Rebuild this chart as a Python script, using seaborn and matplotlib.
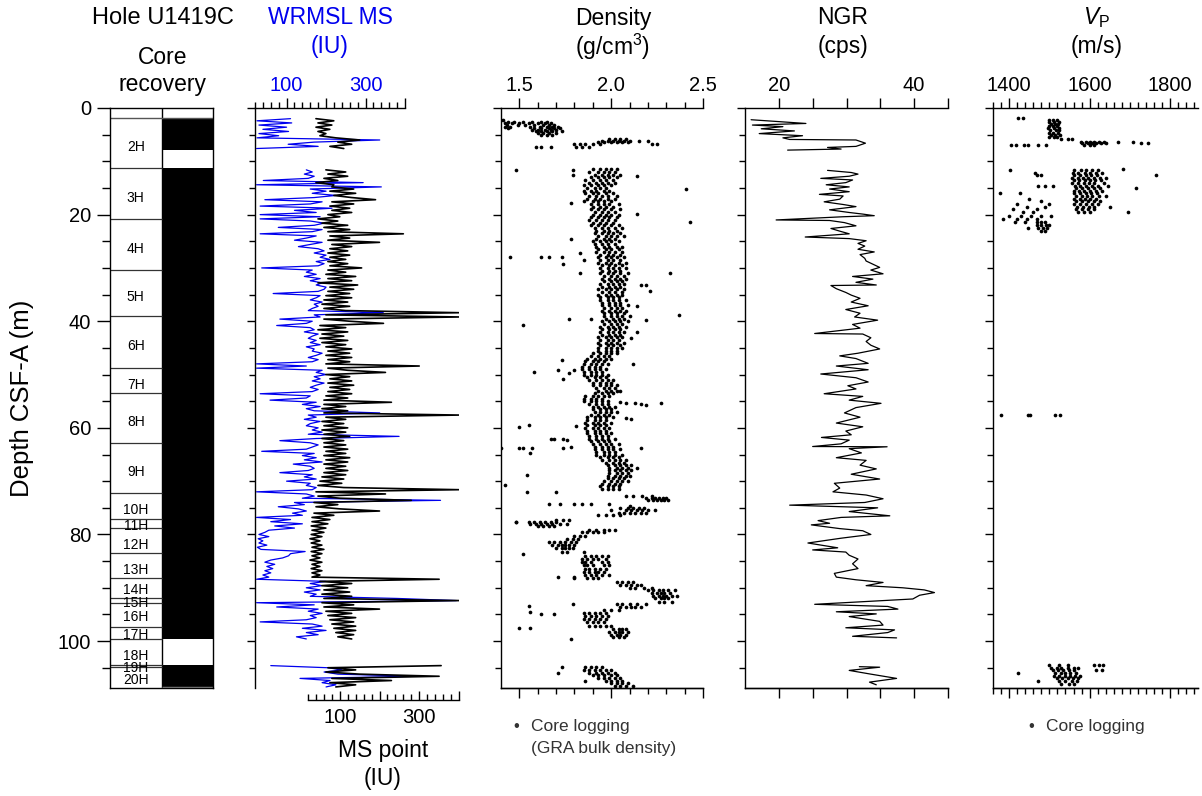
import numpy as np
import pandas as pd
import matplotlib
matplotlib.use("Agg")
import matplotlib.pyplot as plt
from matplotlib.ticker import FixedLocator, FixedFormatter
import seaborn as sns

# ---------------------------------------------------------------- data
core_names = ['2H', '3H', '4H', '5H', '6H', '7H', '8H', '9H', '10H', '11H',
              '12H', '13H', '14H', '15H', '16H', '17H', '18H', '19H', '20H']
core_tops = [1.9, 11.3, 20.9, 30.4, 39.1, 48.7, 53.5, 62.9, 72.2, 77.1,
             78.8, 83.5, 88.2, 91.9, 92.9, 97.4, 99.6, 104.4, 104.9]
core_bottoms = core_tops[1:] + [108.8]
recovered_tops = [1.9, 11.2, 104.4]
recovered_bottoms = [7.9, 99.6, 108.8]

# MS data sampled every 0.4 m from each section start
ms_step = 0.4
ms_starts = [2.0, 11.6, 104.6]
ms_point_2h = [40, 85, 45, 80, 40, 75, 45, 65, 50, 90, 150, 95, 130, 75, 110]
ms_point_main = [
    65, 115, 70, 120, 60, 95, 40, 85, 80, 135,
    75, 140, 85, 130, 190, 80, 135, 75, 125, 80,
    130, 70, 100, 45, 95, 55, 120, 60, 125, 70,
    260, 75, 125, 70, 200, 80, 130, 75, 120, 70,
    125, 75, 115, 70, 120, 75, 155, 70, 115, 65,
    140, 70, 130, 45, 145, 75, 135, 70, 125, 65,
    130, 60, 120, 55, 125, 60, 115, 400, 65, 400,
    60, 125, 210, 50, 115, 45, 120, 55, 110, 50,
    120, 55, 115, 65, 130, 70, 125, 65, 130, 70,
    125, 65, 300, 70, 120, 215, 65, 125, 75, 130,
    70, 135, 75, 125, 70, 130, 65, 120, 60, 230,
    60, 115, 55, 120, 60, 400, 65, 115, 55, 110,
    60, 120, 55, 115, 60, 125, 55, 110, 60, 115,
    60, 120, 65, 115, 60, 125, 65, 120, 60, 115,
    65, 120, 60, 115, 55, 110, 50, 105, 45, 110,
    400, 40, 215, 45, 100, 280, 35, 95, 40, 100,
    200, 35, 85, 30, 75, 30, 70, 28, 65, 30,
    60, 28, 55, 25, 50, 28, 55, 30, 60, 28,
    55, 30, 50, 25, 55, 30, 50, 28, 55, 30,
    50, 30, 350, 50, 130, 55, 120, 60, 125, 55,
    130, 60, 400, 55, 135, 60, 200, 65, 130, 70,
    140, 75, 135, 80, 140, 85, 140, 90, 135, 95,
    130]
ms_point_deep = [355, 70, 140, 65, 150, 350, 80, 230, 75, 140, 90]

wrmsl_2h = [110, 25, 113, 30, 100, 40, 105, 30, 80, 25, 336, 170, 104, 180, 24]
wrmsl_main = [
    150, 165, 145, 170, 155, 41, 294, 24, 340, 160,
    200, 165, 225, 170, 45, 190, 160, 33, 215, 120,
    175, 33, 185, 33, 160, 195, 170, 79, 190, 165,
    33, 175, 150, 120, 190, 160, 130, 180, 195, 170,
    200, 185, 210, 175, 195, 180, 37, 165, 150, 175,
    145, 185, 160, 190, 175, 200, 195, 180, 66, 185,
    175, 160, 190, 170, 180, 165, 155, 345, 170, 185,
    83, 165, 150, 75, 160, 170, 145, 180, 165, 155,
    175, 160, 185, 150, 170, 165, 190, 175, 155, 180,
    165, 24, 150, 24, 190, 175, 200, 170, 185, 165,
    195, 175, 160, 180, 165, 33, 160, 150, 58, 175,
    140, 185, 150, 170, 336, 155, 175, 145, 185, 160,
    150, 180, 165, 190, 155, 385, 175, 83, 160, 180,
    165, 150, 37, 170, 140, 175, 145, 190, 117, 160,
    170, 155, 83, 165, 145, 175, 100, 160, 150, 175,
    165, 24, 150, 170, 140, 490, 120, 145, 79, 130,
    150, 115, 140, 24, 110, 60, 140, 70, 120, 55,
    45, 30, 55, 28, 40, 30, 50, 26, 35, 147,
    110, 105, 90, 60, 45, 70, 50, 65, 45, 60,
    40, 55, 24, 200, 160, 190, 150, 185, 145, 175,
    160, 380, 530, 24, 170, 75, 180, 155, 190, 160,
    175, 150, 33, 165, 190, 140, 200, 150, 180, 125,
    150]
wrmsl_deep = [60, 205, 240, 195, 230, 430, 134, 210, 190, 225, 200]

ngr_depth = [2.2, 2.9, 3.2, 3.5, 3.9, 4.3, 4.8, 5.2, 5.6, 5.9, 6.0, 6.6, 7.2, 7.4, 7.7, 7.9,
             11.7, 12.1, 12.4, 12.8, 13.2, 13.5, 14.0, 14.4, 14.8, 15.2, 15.7, 16.2, 16.5,
             17.1, 17.6, 18.1, 18.5, 19.1, 19.6, 19.9, 20.2, 20.4, 21.0, 21.1, 21.5, 22.1,
             22.6, 23.1, 23.6, 24.2, 24.5, 24.9, 25.4, 25.9, 26.5, 27.0, 27.5, 28.2, 28.7,
             29.3, 29.9, 30.4, 31.1, 31.6, 32.1, 32.7, 33.2, 33.3, 33.9, 34.6, 35.1, 35.7,
             36.4, 37.1, 37.8, 38.5, 39.2, 39.8, 40.6, 41.3, 42.3, 42.4, 43.1, 43.8, 44.5,
             45.2, 46.0, 46.5, 47.0, 47.9, 48.4, 49.1, 49.9, 50.6, 51.4, 52.1, 52.7, 53.6,
             54.1, 54.8, 55.4, 56.2, 57.2, 58.0, 59.1, 59.8, 60.6, 61.3, 61.8, 62.3, 63.0,
             63.5, 63.55, 63.9, 64.7, 65.6, 66.1, 67.0, 67.7, 68.7, 69.6, 70.4, 71.3, 72.0,
             72.6, 73.3, 74.0, 74.5, 75.0, 75.7, 76.5, 76.8, 77.4, 77.9, 78.2, 78.9, 79.3,
             80.0, 80.7, 81.6, 82.5, 82.9, 83.3, 83.9, 84.6, 85.5, 86.4, 87.3, 88.0, 88.5,
             89.0, 89.6, 90.0, 90.4, 90.9, 91.4, 92.1, 93.1, 93.5, 94.0, 94.5, 94.9, 95.4,
             96.3, 97.0, 97.5, 97.9, 98.4, 99.1, 99.4,
             104.8, 104.9, 105.5, 106.2, 107.0, 107.7, 108.2]
ngr_cps = [15.9, 24.0, 16.1, 20.6, 17.4, 22.3, 17.1, 23.5, 20.6, 21.6, 31.4, 32.8, 31.4, 27.2, 29.2, 21.3,
           27.2, 30.7, 31.7, 30.4, 26.2, 30.9, 29.9, 27.0, 30.4, 27.5, 30.4, 26.0, 29.5,
           29.0, 26.7, 29.5, 31.4, 27.5, 30.4, 32.4, 34.1, 29.5, 19.6, 27.5, 29.7, 31.4,
           27.7, 29.0, 30.4, 23.9, 30.4, 32.9, 31.7, 32.7, 31.7, 34.1, 32.0, 32.7, 32.9,
           33.9, 34.9, 33.6, 35.4, 30.9, 33.9, 31.4, 34.4, 27.7, 28.5, 29.9, 30.7, 32.0,
           30.7, 33.2, 29.9, 32.0, 31.2, 34.6, 30.9, 32.0, 25.3, 32.4, 33.6, 32.9, 33.6,
           34.9, 31.7, 29.0, 31.4, 33.2, 28.5, 33.2, 26.2, 31.4, 33.2, 30.2, 31.4, 26.7,
           32.4, 30.4, 35.1, 31.4, 29.7, 32.0, 28.5, 32.4, 29.9, 30.7, 26.3, 30.4, 29.2,
           25.0, 36.0, 30.4, 32.2, 28.5, 32.9, 32.0, 34.4, 30.7, 34.9, 28.2, 29.0, 28.0,
           32.9, 35.4, 32.7, 21.6, 34.6, 30.4, 36.4, 29.2, 25.8, 27.5, 24.8, 29.0, 32.4,
           33.6, 29.2, 24.3, 28.7, 25.0, 29.9, 30.4, 31.7, 30.9, 31.7, 28.2, 28.5, 31.4,
           35.4, 32.9, 38.3, 41.5, 43.0, 40.8, 39.8, 25.3, 36.1, 37.6, 28.5, 34.4, 30.4,
           34.9, 35.4, 29.9, 37.1, 36.1, 30.9, 37.4,
           31.9, 34.9, 30.4, 33.6, 37.4, 33.4, 34.4]

# GRA bulk density core logging: (depth, [values at that depth])
gra_2h = [
    (2.3, [1.40, 1.41]),
    (2.6, [1.44, 1.47, 1.52, 1.57, 1.62, 1.65]),
    (2.9, [1.42, 1.46, 1.50, 1.55, 1.60, 1.64, 1.67]),
    (3.2, [1.43, 1.49, 1.53, 1.58, 1.63, 1.66, 1.69]),
    (3.5, [1.42, 1.45, 1.56, 1.61, 1.65, 1.68, 1.71]),
    (3.8, [1.44, 1.58, 1.62, 1.66, 1.69, 1.72]),
    (4.1, [1.57, 1.60, 1.64, 1.67, 1.70]),
    (4.4, [1.59, 1.62, 1.65, 1.68, 1.73]),
    (4.7, [1.60, 1.63, 1.66, 1.70]),
    (5.0, [1.62, 1.65, 1.68]),
    (5.8, [1.99, 2.02, 2.05, 2.08]),
    (6.1, [1.95, 1.98, 2.01, 2.04, 2.07, 2.10, 2.15, 2.20]),
    (6.4, [1.93, 1.96, 2.00, 2.03, 2.06, 2.09]),
    (6.8, [1.80, 1.83, 1.86, 1.90, 1.94, 2.22, 2.25]),
    (7.3, [1.59, 1.62, 1.67, 1.81, 1.84, 1.88]),
]
gra_upper = [
    (11.5, [1.90, 1.94, 1.97, 2.00, 2.03]), (12.0, [1.88, 1.93, 1.96, 1.99, 2.02]),
    (12.5, [1.91, 1.95, 1.98, 2.01, 2.05]), (13.0, [1.89, 1.93, 1.96, 1.99, 2.03]),
    (13.5, [1.86, 1.90, 1.94, 1.97, 2.01]), (14.0, [1.88, 1.92, 1.95, 1.98, 2.02]),
    (14.5, [1.85, 1.89, 1.93, 1.96, 2.00]), (15.0, [1.87, 1.91, 1.94, 1.97]),
    (15.5, [1.85, 1.89, 1.92, 1.96, 1.99]), (16.0, [1.86, 1.90, 1.93, 1.97, 2.01]),
    (16.5, [1.88, 1.92, 1.95, 1.98, 2.03]), (17.0, [1.87, 1.91, 1.94, 1.98, 2.02]),
    (17.5, [1.85, 1.90, 1.93, 1.96, 2.00]), (18.0, [1.89, 1.93, 1.96, 1.99, 2.04]),
    (18.5, [1.90, 1.94, 1.97, 2.01]), (19.0, [1.89, 1.93, 1.96, 2.00, 2.05]),
    (19.5, [1.91, 1.95, 1.98, 2.02]), (20.0, [1.90, 1.94, 1.97, 2.00, 2.04]),
    (20.5, [1.89, 1.93, 1.96, 1.99, 2.03]), (21.0, [1.88, 1.92, 1.95, 1.98, 2.02]),
    (21.5, [1.90, 1.94, 1.97, 2.01]), (22.0, [1.89, 1.93, 1.96, 2.00, 2.04]),
    (22.5, [1.91, 1.95, 1.98, 2.02, 2.06]), (23.0, [1.92, 1.96, 1.99, 2.03]),
    (23.5, [1.91, 1.95, 1.98, 2.01, 2.05]), (24.0, [1.93, 1.97, 2.00, 2.03, 2.07]),
    (24.5, [1.92, 1.96, 1.99, 2.02]), (25.0, [1.90, 1.94, 1.97, 2.00, 2.04]),
    (25.5, [1.91, 1.95, 1.98, 2.02]), (26.0, [1.92, 1.96, 1.99, 2.03, 2.06]),
    (26.5, [1.93, 1.97, 2.00, 2.04]), (27.0, [1.92, 1.96, 1.99, 2.02, 2.06]),
    (27.5, [1.94, 1.98, 2.01, 2.05]), (28.0, [1.93, 1.97, 2.00, 2.03, 2.07]),
    (28.5, [1.94, 1.98, 2.01, 2.05]), (29.0, [1.93, 1.97, 2.00, 2.04, 2.08]),
    (29.5, [1.95, 1.99, 2.02, 2.06]), (30.0, [1.94, 1.98, 2.01, 2.04, 2.08]),
    (30.5, [1.95, 1.99, 2.02, 2.05]), (31.0, [1.94, 1.98, 2.01, 2.05, 2.09]),
    (31.5, [1.96, 2.00, 2.03, 2.07]), (32.0, [1.95, 1.99, 2.02, 2.05, 2.08]),
    (32.5, [1.96, 2.00, 2.03, 2.06]), (33.0, [1.94, 1.98, 2.01, 2.04, 2.07]),
    (33.5, [1.95, 1.99, 2.02, 2.05]), (34.0, [1.93, 1.97, 2.00, 2.03, 2.07]),
    (34.5, [1.95, 1.99, 2.02, 2.06]), (35.0, [1.93, 1.97, 2.00, 2.03, 2.06]),
    (35.5, [1.94, 1.98, 2.01, 2.04]), (36.0, [1.94, 1.98, 2.01, 2.04, 2.08]),
    (36.5, [1.95, 1.99, 2.02, 2.05]), (37.0, [1.95, 1.99, 2.02, 2.05, 2.09]),
    (37.5, [1.96, 2.00, 2.03, 2.06]), (38.0, [1.95, 1.99, 2.02, 2.05, 2.08]),
    (38.5, [1.96, 2.00, 2.03, 2.07]), (39.0, [1.96, 2.00, 2.03, 2.06, 2.10]),
    (39.5, [1.97, 2.01, 2.04, 2.07]), (40.0, [1.95, 1.99, 2.02, 2.05, 2.09]),
    (40.5, [1.96, 2.00, 2.03, 2.06]), (41.0, [1.94, 1.98, 2.01, 2.04, 2.08]),
    (41.5, [1.95, 1.99, 2.02, 2.05]), (42.0, [1.94, 1.98, 2.01, 2.04, 2.07]),
    (42.5, [1.95, 1.99, 2.02, 2.05]), (43.0, [1.93, 1.97, 2.00, 2.03, 2.06]),
    (43.5, [1.94, 1.98, 2.01, 2.04]), (44.0, [1.93, 1.97, 2.00, 2.03, 2.07]),
    (44.5, [1.94, 1.98, 2.01, 2.05]), (45.0, [1.93, 1.97, 2.00, 2.03, 2.06]),
    (45.5, [1.93, 1.97, 2.00, 2.03]), (46.0, [1.90, 1.94, 1.97, 2.00, 2.03]),
    (46.5, [1.89, 1.93, 1.96, 1.99]), (47.0, [1.87, 1.91, 1.94, 1.97, 2.00]),
    (47.5, [1.86, 1.90, 1.93, 1.96]), (48.0, [1.85, 1.89, 1.92, 1.95, 1.98]),
    (48.5, [1.84, 1.88, 1.91, 1.94]), (49.0, [1.84, 1.88, 1.91, 1.94, 1.97]),
    (49.5, [1.85, 1.89, 1.92, 1.95]), (50.0, [1.85, 1.89, 1.92, 1.95, 1.98]),
    (50.5, [1.87, 1.91, 1.94, 1.97]), (51.0, [1.88, 1.92, 1.95, 1.98, 2.01]),
    (51.5, [1.90, 1.94, 1.97, 2.00]), (52.0, [1.90, 1.94, 1.97, 2.00, 2.03]),
    (52.5, [1.92, 1.96, 1.99, 2.02]), (53.0, [1.93, 1.97, 2.00, 2.03, 2.05]),
    (53.5, [1.91, 1.95, 1.98, 2.01]), (54.0, [1.86, 1.90, 1.93, 1.96, 1.99]),
    (54.5, [1.85, 1.89, 1.92, 1.95]), (55.0, [1.85, 1.89, 1.92, 1.95, 1.98]),
    (55.5, [1.88, 1.92, 1.95, 1.98]), (56.0, [1.90, 1.93, 1.96, 1.99, 2.02]),
    (56.5, [1.90, 1.94, 1.97, 2.00]), (57.0, [1.91, 1.94, 1.97, 2.00, 2.03]),
    (57.5, [1.89, 1.93, 1.96, 1.99]), (58.0, [1.87, 1.91, 1.94, 1.97, 2.01]),
    (58.5, [1.87, 1.91, 1.94, 1.97]), (59.0, [1.86, 1.90, 1.93, 1.96, 2.00]),
    (59.5, [1.87, 1.91, 1.94, 1.97]), (60.0, [1.86, 1.90, 1.93, 1.96, 1.99]),
    (60.5, [1.87, 1.91, 1.94, 1.97]), (61.0, [1.87, 1.91, 1.94, 1.97, 2.00]),
    (61.5, [1.88, 1.92, 1.95, 1.98]), (62.0, [1.88, 1.92, 1.95, 1.98, 2.02]),
    (62.5, [1.89, 1.93, 1.96, 1.99]), (63.0, [1.90, 1.94, 1.97, 2.00, 2.04]),
    (63.5, [1.91, 1.95, 1.98, 2.01]), (64.0, [1.91, 1.95, 1.98, 2.01, 2.05]),
    (64.5, [1.92, 1.96, 1.99, 2.02]), (65.0, [1.92, 1.96, 1.99, 2.02, 2.06]),
    (65.5, [1.94, 1.98, 2.01, 2.04]), (66.0, [1.95, 1.99, 2.02, 2.05, 2.08]),
    (66.5, [1.97, 2.01, 2.04, 2.07]), (67.0, [1.98, 2.02, 2.05, 2.08, 2.11]),
    (67.5, [1.99, 2.03, 2.06, 2.09]), (68.0, [1.99, 2.02, 2.05, 2.08, 2.11]),
    (68.5, [1.99, 2.03, 2.06, 2.09]), (69.0, [1.98, 2.02, 2.05, 2.08, 2.10]),
    (69.5, [1.98, 2.01, 2.04, 2.07]), (70.0, [1.96, 2.00, 2.03, 2.06, 2.09]),
    (70.5, [1.95, 1.99, 2.02, 2.05]), (71.0, [1.94, 1.98, 2.01, 2.04]),
    (71.5, [1.95, 1.98, 2.01, 2.04]),
]
gra_lower = [
    (72.8, [2.08, 2.12, 2.17, 2.22]), (73.2, [2.19, 2.22, 2.24, 2.26, 2.28, 2.30]),
    (73.6, [2.20, 2.23, 2.25, 2.27, 2.29, 2.31]), (74.3, [1.66, 1.72, 1.80, 1.84, 1.89, 1.99]),
    (75.0, [2.05, 2.09, 2.12, 2.15, 2.18]), (75.4, [2.00, 2.08, 2.11, 2.14, 2.17, 2.20, 2.24]),
    (75.9, [2.04, 2.07, 2.10, 2.13, 2.16, 2.19]), (76.4, [1.93, 1.97, 2.01, 2.05]),
    (77.2, [1.70, 1.74, 1.77]), (77.6, [1.48, 1.55, 1.58, 1.61, 1.64, 1.67, 1.70]),
    (78.0, [1.56, 1.59, 1.62, 1.65, 1.68, 1.72, 1.76]), (78.4, [1.60, 1.63, 1.66, 1.69]),
    (79.1, [1.88, 1.92, 1.96, 1.99, 2.02]), (79.6, [1.84, 1.87, 1.90, 1.93, 1.96]),
    (80.2, [1.80, 1.83, 1.86]), (80.8, [1.76, 1.79, 1.82]),
    (81.4, [1.66, 1.69, 1.72, 1.75, 1.78, 1.81]), (81.9, [1.68, 1.71, 1.73, 1.75, 1.77, 1.80]),
    (82.5, [1.70, 1.73, 1.75, 1.77, 1.79]), (83.2, [1.73, 1.76, 1.85]),
    (84.0, [1.86, 1.89, 1.92, 1.95, 1.98]), (84.6, [1.84, 1.87, 1.90, 1.93, 1.97]),
    (85.2, [1.84, 1.86, 1.89, 1.95, 1.98]), (85.8, [1.85, 1.87, 1.90, 1.96, 1.99]),
    (86.4, [1.86, 1.88, 1.91, 1.94, 1.97]), (87.0, [1.85, 1.88, 1.91, 1.93, 1.96]),
    (87.6, [1.86, 1.89, 1.92, 1.95, 1.99]), (88.2, [1.80, 1.87, 1.90, 1.93]),
    (88.9, [2.03, 2.06, 2.09, 2.12]), (89.4, [2.05, 2.08, 2.11, 2.14, 2.16]),
    (90.0, [2.10, 2.13, 2.18, 2.22]), (90.5, [2.20, 2.23, 2.26, 2.28, 2.31, 2.35]),
    (91.0, [2.22, 2.25, 2.27, 2.29, 2.32]), (91.5, [2.23, 2.26, 2.28, 2.30, 2.33, 2.36]),
    (92.0, [2.24, 2.27, 2.29, 2.31]), (92.6, [2.26, 2.29, 2.33]),
    (93.1, [1.79, 2.03, 2.06, 2.10, 2.14, 2.19]), (93.6, [2.05, 2.08, 2.11, 2.13, 2.16]),
    (94.2, [1.96, 2.00, 2.04]), (94.7, [1.85, 1.88, 1.91, 1.94, 1.97]),
    (95.3, [1.86, 1.89, 1.92, 1.95, 1.98]), (95.9, [1.85, 1.88, 1.91, 1.94, 1.97]),
    (96.5, [1.87, 1.90, 1.93, 1.96]), (97.1, [1.88, 1.91, 1.94, 1.97, 2.00]),
    (97.8, [2.01, 2.04, 2.06, 2.08]), (98.3, [1.99, 2.02, 2.04, 2.06, 2.09]),
    (98.8, [2.00, 2.03, 2.05, 2.08]), (99.3, [2.01, 2.04, 2.07]),
]
gra_deep = [
    (104.9, [1.73, 1.86, 1.89, 1.92, 1.95]), (105.4, [1.85, 1.88, 1.91, 1.94, 1.97, 2.00]),
    (105.9, [1.71, 1.88, 1.92, 1.95, 1.98, 2.02]), (106.4, [1.90, 1.93, 1.96, 2.00, 2.03]),
    (106.9, [1.93, 1.96, 1.99, 2.02, 2.05]), (107.4, [1.86, 1.97, 2.00, 2.03, 2.06]),
    (107.9, [2.00, 2.03, 2.06, 2.09]), (108.4, [2.02, 2.05, 2.08, 2.12]),
]
gra_outlier_depth = [11.7, 11.7, 12.6, 12.8, 15.2, 17.8, 19.8, 21.3, 24.5, 27.9, 27.9, 27.9,
                     27.9, 29.2, 27.2, 28.6, 30.9, 30.9, 33.2, 33.2, 34.3, 37.1, 38.8, 39.5,
                     39.6, 40.8, 39.8, 42.1, 43.2, 48.0, 47.3, 49.6, 49.2, 50.8, 49.8, 49.1,
                     55.1, 55.3, 55.4, 55.6, 55.8, 55.4, 58.1, 58.3, 59.9, 59.5, 59.7, 62.0,
                     62.0, 62.0, 62.2, 63.7, 63.7, 63.8, 63.7, 64.7, 63.7, 63.6, 63.7, 67.5,
                     68.9, 70.7, 72.0, 72.0, 74.6, 77.7, 83.7, 88.0, 88.0, 93.4, 94.5, 95.0,
                     95.0, 97.6, 97.6, 99.6]
gra_outlier_value = [1.48, 1.79, 1.79, 2.14, 2.41, 1.78, 2.14, 2.43, 1.78, 1.45, 1.62, 1.66,
                     1.73, 1.74, 1.83, 1.85, 1.83, 2.32, 2.16, 2.19, 2.21, 2.14, 2.37, 1.77,
                     1.89, 1.52, 2.19, 2.14, 2.11, 2.12, 1.73, 1.58, 1.71, 1.74, 1.77, 1.80,
                     2.05, 2.08, 2.13, 2.16, 2.19, 2.27, 2.08, 2.11, 1.50, 1.55, 1.81, 1.67,
                     1.69, 1.74, 1.76, 1.40, 1.50, 1.52, 1.57, 1.56, 1.74, 1.78, 2.16, 2.14,
                     1.54, 1.42, 1.54, 1.70, 2.10, 1.48, 1.52, 1.71, 1.80, 1.55, 1.56, 1.62,
                     1.69, 1.50, 1.56, 1.78]

vp_rows = [
    (1.9, [1422, 1435]), (2.2, [1500, 1510, 1520]), (2.6, [1498, 1512, 1525]),
    (3.0, [1503, 1515, 1522]), (3.4, [1500, 1508, 1520]), (3.8, [1497, 1512, 1524]),
    (4.2, [1502, 1516, 1523]), (4.6, [1499, 1510, 1521]), (5.0, [1504, 1515, 1526]),
    (5.4, [1500, 1512, 1520]), (5.8, [1530, 1545, 1555]),
    (6.3, [1578, 1590, 1600, 1610, 1622, 1635, 1670, 1708]),
    (6.6, [1580, 1595, 1605, 1615, 1628, 1641, 1728, 1745]),
    (6.9, [1405, 1417, 1437, 1447, 1472, 1492, 1585, 1600, 1612]),
    (11.4, [1683]), (11.7, [1402, 1560, 1578, 1592, 1605, 1620]),
    (12.1, [1465, 1558, 1572, 1588, 1600, 1615, 1630]),
    (12.6, [1470, 1478, 1562, 1575, 1590, 1604, 1618, 1765]),
    (13.1, [1555, 1570, 1583, 1597, 1610, 1625, 1640]),
    (13.6, [1560, 1574, 1588, 1601, 1614, 1628]),
    (14.1, [1557, 1571, 1585, 1598, 1612, 1635]),
    (14.6, [1472, 1490, 1509, 1563, 1577, 1592, 1606, 1620, 1646]),
    (15.0, [1716, 1565, 1580, 1595, 1610, 1625]),
    (15.5, [1560, 1573, 1587, 1600, 1615, 1630]),
    (16.0, [1378, 1427, 1562, 1576, 1590, 1604, 1618]),
    (16.5, [1565, 1580, 1594, 1607, 1622, 1640]),
    (17.0, [1450, 1560, 1575, 1588, 1602, 1616]),
    (17.5, [1480, 1566, 1580, 1595, 1610, 1625]),
    (18.0, [1420, 1500, 1562, 1577, 1592, 1606, 1620]),
    (18.5, [1445, 1490, 1568, 1583, 1598, 1612, 1650]),
    (19.0, [1410, 1470, 1565, 1580, 1595, 1610]),
    (19.5, [1435, 1460, 1570, 1585, 1600, 1696]),
    (20.2, [1400, 1430, 1455, 1480, 1505]), (20.8, [1385, 1420, 1445, 1470]),
    (21.4, [1415, 1440, 1470, 1478, 1490]), (22.0, [1470, 1480, 1492, 1500]),
    (22.6, [1448, 1472, 1485, 1495]), (23.1, [1478, 1490]),
    (57.6, [1380, 1447, 1452, 1514, 1527]),
    (104.5, [1500, 1525, 1545, 1610, 1622, 1634]),
    (105.0, [1505, 1518, 1530, 1545, 1560, 1572]),
    (105.5, [1510, 1522, 1535, 1548, 1562, 1615, 1630]),
    (106.0, [1422, 1515, 1528, 1540, 1552, 1566]),
    (106.5, [1512, 1525, 1538, 1550, 1563, 1575]),
    (107.0, [1518, 1532, 1545, 1558, 1570]),
    (107.5, [1472, 1525, 1540, 1555, 1568]),
    (108.0, [1530, 1548, 1562]),
]

# ---------------------------------------------------------------- frames
def ms_frame(parts):
    rows = []
    for sec, (start, vals) in enumerate(parts):
        for i, v in enumerate(vals):
            rows.append((start + ms_step * i, v, sec))
    return pd.DataFrame(rows, columns=['depth', 'value', 'section'])

df_ms_point = ms_frame([(ms_starts[0], ms_point_2h), (ms_starts[1], ms_point_main),
                        (ms_starts[2], ms_point_deep)])
df_wrmsl = ms_frame([(ms_starts[0], wrmsl_2h), (ms_starts[1], wrmsl_main),
                     (ms_starts[2], wrmsl_deep)])

df_ngr = pd.DataFrame({'depth': ngr_depth, 'value': ngr_cps})
df_ngr['section'] = np.digitize(df_ngr['depth'], [10, 102])

def rows_frame(rows):
    d = [r[0] for r in rows for _ in r[1]]
    v = [x for r in rows for x in r[1]]
    return pd.DataFrame({'depth': d, 'value': v})

df_gra = pd.concat([rows_frame(gra_2h), rows_frame(gra_upper), rows_frame(gra_lower),
                    rows_frame(gra_deep),
                    pd.DataFrame({'depth': gra_outlier_depth, 'value': gra_outlier_value})])
df_vp = rows_frame(vp_rows)

# ---------------------------------------------------------------- style
sns.set_theme(style='white')
plt.rcParams['font.family'] = ['Liberation Sans', 'DejaVu Sans']
plt.rcParams['mathtext.fontset'] = 'custom'
plt.rcParams['mathtext.rm'] = 'Liberation Sans'
plt.rcParams['mathtext.it'] = 'Liberation Sans:italic'
plt.rcParams['axes.linewidth'] = 1.0
plt.rcParams['text.color'] = 'black'
plt.rcParams['axes.labelcolor'] = 'black'
plt.rcParams['xtick.color'] = 'black'
plt.rcParams['ytick.color'] = 'black'
plt.rcParams['xtick.labelcolor'] = 'black'
plt.rcParams['ytick.labelcolor'] = 'black'

W, H = 1202, 796
fig = plt.figure(figsize=(W / 100, H / 100), dpi=100)
fig.patch.set_facecolor('white')
TOP, BOT = 108, 688
YMAX = 108.8
BLUE = '#0000ee'
TICK_FS = 14.5
TITLE_FS = 16.5


def add_axes(x0, x1):
    return fig.add_axes([x0 / W, 1 - BOT / H, (x1 - x0) / W, (BOT - TOP) / H])


def fx(px):
    return px / W


def fy(py):
    return 1 - py / H


def depth_ticks(ax, labels=False):
    ax.set_ylim(YMAX, 0)
    ax.yaxis.set_major_locator(FixedLocator([0, 20, 40, 60, 80, 100]))
    ax.yaxis.set_minor_locator(FixedLocator([5, 10, 15, 25, 30, 35, 45, 50, 55, 65, 70,
                                             75, 85, 90, 95, 105]))
    ax.tick_params(axis='y', which='both', left=True, right=False, direction='out',
                   width=1.0, labelleft=labels, labelsize=TICK_FS, color='black',
                   labelcolor='black')


def x_ticks(ax, majors, labels, minors, where='top', label_color='black',
            direction='out', maj_len=7.5, min_len=4.0, pad=2.0):
    if where == 'top':
        ax.xaxis.tick_top()
        ax.tick_params(axis='x', which='both', top=True, bottom=False,
                       labeltop=True, labelbottom=False)
    else:
        ax.tick_params(axis='x', which='both', top=False, bottom=True,
                       labeltop=False, labelbottom=True)
    ax.xaxis.set_major_locator(FixedLocator(majors))
    ax.xaxis.set_major_formatter(FixedFormatter(labels))
    ax.xaxis.set_minor_locator(FixedLocator(minors))
    ax.tick_params(axis='x', which='major', length=maj_len, width=1.0, direction=direction,
                   labelsize=TICK_FS, labelcolor=label_color, pad=pad, color='black')
    ax.tick_params(axis='x', which='minor', length=min_len, width=1.0, direction=direction,
                   color='black')


def bottom_twin(ax, majors, minors):
    sec = ax.secondary_xaxis('bottom')
    sec.xaxis.set_major_locator(FixedLocator(majors))
    sec.xaxis.set_minor_locator(FixedLocator(minors))
    sec.xaxis.set_major_formatter(FixedFormatter([''] * len(majors)))
    sec.tick_params(axis='x', which='major', length=7.5, width=1.0, direction='out')
    sec.tick_params(axis='x', which='minor', length=4.0, width=1.0, direction='out')
    sec.spines['bottom'].set_linewidth(1.0)
    return sec


# ---------------------------------------------------------------- core recovery
ax_core = add_axes(110, 213)
ax_core.set_xlim(0, 2)
depth_ticks(ax_core, labels=True)
ax_core.tick_params(axis='y', which='major', length=9.5, pad=4)
ax_core.tick_params(axis='y', which='minor', length=5.5)
ax_core.set_xticks([])
for s in ax_core.spines.values():
    s.set_visible(True)
    s.set_color('black')
    s.set_linewidth(1.0)
for t, b in zip(recovered_tops, recovered_bottoms):
    ax_core.fill_betweenx([t, b], 1, 2, color='black', linewidth=0)
ax_core.axvline(1, color='black', lw=1.0)
ax_core.hlines(core_tops[0], 0, 2, color='#555555', lw=1.0)
ax_core.hlines(core_tops[1:], 0, 1, color='#333333', lw=0.9)
ax_core.hlines(YMAX - 0.15, 1, 2, color='#888888', lw=1.0)
for name, t, b in zip(core_names, core_tops, core_bottoms):
    ax_core.text(0.5, (t + b) / 2 + (0.5 if b - t > 4.5 else 0.1), name, ha='center',
                 va='center_baseline', fontsize=10, color='black')
ax_core.set_ylabel('')

# ---------------------------------------------------------------- MS panel
ax_blue = add_axes(255, 459)
ax_blue.set_xlim(20, 20 + (459 - 255) * 380 / 150)
depth_ticks(ax_blue)
for side in ['right', 'bottom']:
    ax_blue.spines[side].set_visible(False)
ax_blue.spines['left'].set_color('black')
ax_blue.spines['top'].set_color('black')
ax_blue.spines['top'].set_bounds(20, 400)
x_ticks(ax_blue, [100, 200, 300, 400], ['100', '', '300', ''],
        list(range(20, 400, 20)), where='top', label_color=BLUE)
sns.lineplot(data=df_wrmsl, x='value', y='depth', units='section', estimator=None,
             sort=False, color=BLUE, lw=0.9, ax=ax_blue, legend=False)
ax_blue.set_xlabel('')
ax_blue.set_ylabel('')
ax_blue.set_xlim(20, 20 + (459 - 255) * 380 / 150)
ax_blue.set_ylim(YMAX, 0)

ax_black = add_axes(308, 459)
ax_black.patch.set_alpha(0)
ax_black.set_xlim(20, 400)
ax_black.set_ylim(YMAX, 0)
for side in ['left', 'right', 'top']:
    ax_black.spines[side].set_visible(False)
ax_black.spines['bottom'].set_color('black')
ax_black.spines['bottom'].set_position(('outward', 8.6))
ax_black.set_yticks([])
sns.lineplot(data=df_ms_point, x='value', y='depth', units='section', estimator=None,
             sort=False, color='black', lw=1.2, ax=ax_black, legend=False)
ax_black.set_xlabel('')
ax_black.set_ylabel('')
ax_black.set_xlim(20, 400)
ax_black.set_ylim(YMAX, 0)
ax_black.set_yticks([])
x_ticks(ax_black, [100, 200, 300, 400], ['100', '', '300', ''],
        list(range(20, 400, 20)), where='bottom', direction='in', maj_len=6.5,
        min_len=4.0, pad=5.5)

# ---------------------------------------------------------------- density
def data_axes(x0, x1, xlim, majors, labels, minors):
    ax = add_axes(x0, x1)
    ax.set_xlim(*xlim)
    depth_ticks(ax)
    ax.spines['right'].set_visible(False)
    for side in ['left', 'top', 'bottom']:
        ax.spines[side].set_color('black')
        ax.spines[side].set_linewidth(1.0)
    x_ticks(ax, majors, labels, minors, where='top')
    bottom_twin(ax, majors, minors)
    return ax


ax_den = data_axes(501, 703, (1.4, 2.5), [1.5, 2.0, 2.5], ['1.5', '2.0', '2.5'],
                   [1.6, 1.7, 1.8, 1.9, 2.1, 2.2, 2.3, 2.4])
sns.scatterplot(data=df_gra, x='value', y='depth', s=7, color='black', linewidth=0,
                ax=ax_den, legend=False)
ax_den.set_xlim(1.4, 2.5)
ax_den.set_ylim(YMAX, 0)
ax_den.set_xlabel('')
ax_den.set_ylabel('')

# ---------------------------------------------------------------- NGR
ax_ngr = data_axes(745, 948, (15, 45), [20, 25, 30, 35, 40, 45],
                   ['20', '', '', '', '40', ''], [])
sns.lineplot(data=df_ngr, x='value', y='depth', units='section', estimator=None,
             sort=False, color='black', lw=0.9, ax=ax_ngr, legend=False)
ax_ngr.set_xlim(15, 45)
ax_ngr.set_ylim(YMAX, 0)
ax_ngr.set_xlabel('')
ax_ngr.set_ylabel('')

# ---------------------------------------------------------------- VP
vp_minor = [v for v in range(1360, 1870, 20) if v not in (1400, 1600, 1800)]
ax_vp = data_axes(993, 1198, (1360, 1869), [1400, 1600, 1800], ['1400', '1600', '1800'],
                  vp_minor)
sns.scatterplot(data=df_vp, x='value', y='depth', s=7, color='black', linewidth=0,
                ax=ax_vp, legend=False)
ax_vp.set_xlim(1360, 1869)
ax_vp.set_ylim(YMAX, 0)
ax_vp.set_xlabel('')
ax_vp.set_ylabel('')

for ax in [ax_blue, ax_black, ax_den, ax_ngr, ax_vp, ax_core]:
    ax.grid(False)

# ---------------------------------------------------------------- texts
TXT = 'black'
fig.text(fx(163), fy(18), 'Hole U1419C', ha='center', va='center', fontsize=17, color=TXT)
fig.text(fx(163), fy(58), 'Core', ha='center', va='center', fontsize=TITLE_FS, color=TXT)
fig.text(fx(163), fy(85), 'recovery', ha='center', va='center', fontsize=TITLE_FS, color=TXT)
fig.text(fx(330), fy(18), 'WRMSL MS', ha='center', va='center', fontsize=TITLE_FS, color=BLUE)
fig.text(fx(330), fy(47), '(IU)', ha='center', va='center', fontsize=TITLE_FS, color=BLUE)
fig.text(fx(613), fy(18), 'Density', ha='center', va='center', fontsize=TITLE_FS, color=TXT)
fig.text(fx(613), fy(47), '(g/cm$^{3}$)', ha='center', va='center', fontsize=TITLE_FS,
         color=TXT)
fig.text(fx(843), fy(18), 'NGR', ha='center', va='center', fontsize=TITLE_FS, color=TXT)
fig.text(fx(843), fy(47), '(cps)', ha='center', va='center', fontsize=TITLE_FS, color=TXT)
fig.text(fx(1097), fy(18), r'$V_{\mathrm{P}}$', ha='center', va='center', fontsize=TITLE_FS,
         color=TXT)
fig.text(fx(1097), fy(47), '(m/s)', ha='center', va='center', fontsize=TITLE_FS, color=TXT)
fig.text(fx(383), fy(750), 'MS point', ha='center', va='center', fontsize=TITLE_FS, color=TXT)
fig.text(fx(383), fy(778), '(IU)', ha='center', va='center', fontsize=TITLE_FS, color=TXT)
fig.text(fx(22), fy(398), 'Depth CSF-A (m)', ha='center', va='center', rotation=90,
         fontsize=18.5, color=TXT)

LEG = '#333333'
fig.text(fx(516), fy(727), '\u2022', ha='center', va='center', fontsize=12, color=LEG)
fig.text(fx(531), fy(727), 'Core logging', ha='left', va='center', fontsize=12.5, color=LEG)
fig.text(fx(531), fy(748), '(GRA bulk density)', ha='left', va='center', fontsize=12.5,
         color=LEG)
fig.text(fx(1031), fy(727), '\u2022', ha='center', va='center', fontsize=12, color=LEG)
fig.text(fx(1046), fy(727), 'Core logging', ha='left', va='center', fontsize=12.5,
         color=LEG)

fig.savefig('out.png', dpi=100, facecolor='white')
